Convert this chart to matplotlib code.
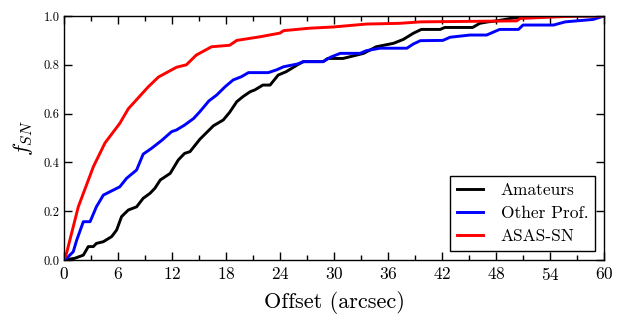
import matplotlib
matplotlib.use("Agg")
import matplotlib.pyplot as plt
from matplotlib.ticker import MultipleLocator

plt.rcParams["font.family"] = ["cmr10", "DejaVu Serif"]
plt.rcParams["mathtext.fontset"] = "cm"
plt.rcParams["axes.unicode_minus"] = False
plt.rcParams["axes.formatter.use_mathtext"] = True

# offsets (arcsec) and cumulative fractions
amat_x = [0, 1.2, 2.15, 2.7, 3.26, 3.6, 4.37, 5.3, 5.85, 6.4, 7.15, 8.07, 8.8, 9.55,
          10.1, 10.7, 11.8, 12.7, 13.4, 14.0, 15.1, 16.6, 17.7, 18.4, 19.2, 19.9,
          20.7, 21.2, 22.1, 22.9, 23.8, 24.7, 25.9, 26.6, 28.8, 29.3, 31.0, 32.1,
          33.3, 34.7, 36.6, 37.7, 38.8, 39.7, 41.8, 42.3, 45.4, 46.2, 47.1, 48.1,
          49.6, 52.0, 60]
amat_f = [0, 0.007, 0.02, 0.055, 0.055, 0.068, 0.075, 0.096, 0.123, 0.178, 0.205,
          0.218, 0.253, 0.273, 0.294, 0.328, 0.355, 0.41, 0.437, 0.444, 0.495, 0.55,
          0.574, 0.605, 0.649, 0.67, 0.69, 0.697, 0.717, 0.717, 0.758, 0.772, 0.799,
          0.813, 0.813, 0.826, 0.826, 0.836, 0.847, 0.874, 0.888, 0.904, 0.929,
          0.945, 0.945, 0.953, 0.953, 0.97, 0.976, 0.98, 0.99, 1.0, 1.0]

prof_x = [0, 0.3, 1.03, 1.4, 2.15, 2.9, 3.6, 4.37, 5.5, 6.2, 6.96, 8.07, 8.8, 9.74,
          10.85, 11.96, 12.5, 13.4, 14.4, 15.1, 16.1, 16.96, 17.9, 18.8, 19.7, 20.5,
          22.7, 23.6, 24.4, 25.9, 26.6, 28.8, 29.6, 30.7, 32.9, 33.6, 35.1, 38.1,
          38.8, 39.6, 42.1, 42.9, 45.1, 46.96, 48.4, 50.5, 51.0, 54.4, 55.7, 56.96,
          58.8, 60]
prof_f = [0, 0.007, 0.034, 0.08, 0.157, 0.157, 0.218, 0.266, 0.287, 0.30, 0.335,
          0.369, 0.434, 0.458, 0.49, 0.526, 0.533, 0.553, 0.58, 0.608, 0.652, 0.676,
          0.71, 0.738, 0.751, 0.768, 0.768, 0.779, 0.792, 0.803, 0.813, 0.813, 0.831,
          0.847, 0.847, 0.858, 0.868, 0.868, 0.885, 0.899, 0.90, 0.913, 0.922, 0.922,
          0.945, 0.945, 0.963, 0.963, 0.976, 0.98, 0.986, 1.0]

asas_x = [0, 0.3, 1.59, 3.26, 4.56, 6.2, 7.15, 9.37, 10.5, 12.5, 13.6, 14.7, 16.4,
          18.4, 19.2, 21.8, 24.0, 24.4, 27.3, 29.9, 33.6, 37.3, 39.6, 45.0, 50.3,
          50.7, 57.0, 60]
asas_f = [0, 0.03, 0.218, 0.382, 0.48, 0.56, 0.62, 0.71, 0.75, 0.79, 0.80, 0.84,
          0.874, 0.88, 0.90, 0.915, 0.93, 0.94, 0.95, 0.955, 0.967, 0.97, 0.976,
          0.978, 0.98, 0.99, 1.0, 1.0]

fig = plt.figure(figsize=(6.23, 3.24), dpi=100)
ax = fig.add_axes([0.1027, 0.1975, 0.8668, 0.7531])

ax.plot(amat_x, amat_f, color="black", lw=2.1, label="Amateurs")
ax.plot(prof_x, prof_f, color="blue", lw=2.1, label="Other Prof.")
ax.plot(asas_x, asas_f, color="red", lw=2.1, label="ASAS-SN")

ax.set_xlim(0, 60)
ax.set_ylim(0, 1)
ax.xaxis.set_major_locator(MultipleLocator(6))
ax.xaxis.set_minor_locator(MultipleLocator(3))
ax.yaxis.set_major_locator(MultipleLocator(0.2))
ax.yaxis.set_major_formatter(plt.FuncFormatter(lambda v, p: f"{v:.1f}"))
ax.tick_params(which="both", direction="in", top=True, right=True)
ax.tick_params(axis="x", labelsize=12.5, pad=4)
ax.tick_params(axis="y", labelsize=9, pad=3)
ax.tick_params(which="major", length=6, width=1)
ax.tick_params(which="minor", length=3.5, width=1)
for s in ax.spines.values():
    s.set_linewidth(1)

ax.set_xlabel("Offset (arcsec)", fontsize=16, labelpad=6)
ax.set_ylabel("$f_{SN}$", fontsize=16, labelpad=6)

leg = ax.legend(loc="lower right", fontsize=12.5, fancybox=False, framealpha=1,
                borderaxespad=0.5, handlelength=1.5, handletextpad=1.0,
                labelspacing=0.45, borderpad=0.4)
leg.get_frame().set_edgecolor("black")
leg.get_frame().set_linewidth(1)

fig.savefig("out.png", dpi=100)
